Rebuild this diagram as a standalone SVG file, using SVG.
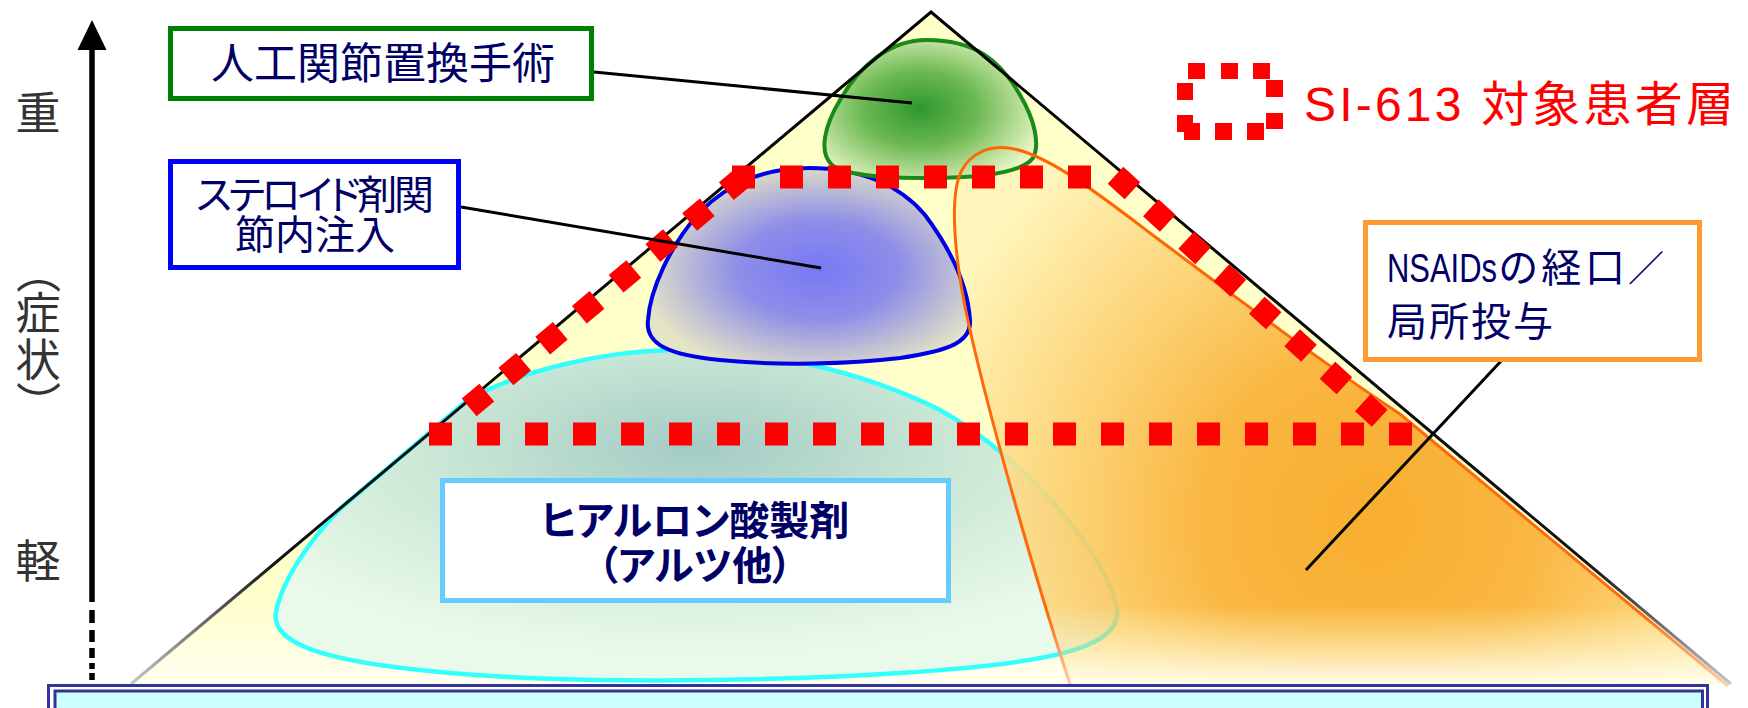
<svg xmlns="http://www.w3.org/2000/svg" width="1748" height="708" viewBox="0 0 1748 708">
<style>
  .jp { font-family: 'Noto Sans CJK JP', 'Noto Sans CJK SC', sans-serif; font-feature-settings: "palt"; }
  .lat { font-family: 'Liberation Sans', 'Noto Sans CJK JP', sans-serif; font-feature-settings: "palt"; }
  .lbl { fill: #000066; }
  .ax { fill: #333333; font-size: 45px; }
  .box { fill: #ffffff; stroke-width: 5; }
  .conn { stroke: #000000; stroke-width: 3; fill: none; }
  .dots { stroke: #ff0000; stroke-width: 23; stroke-dasharray: 23 25; fill: none; }
  .lg { fill: #ff0000; }
</style>
<defs>
  <linearGradient id="triFill" gradientUnits="userSpaceOnUse" x1="0" y1="12" x2="0" y2="684">
    <stop offset="0" stop-color="#ffffc8"/>
    <stop offset="0.88" stop-color="#ffffcc"/>
    <stop offset="1" stop-color="#fffff0"/>
  </linearGradient>
  <linearGradient id="triStroke" gradientUnits="userSpaceOnUse" x1="0" y1="12" x2="0" y2="684">
    <stop offset="0" stop-color="#000000"/>
    <stop offset="0.82" stop-color="#111111"/>
    <stop offset="1" stop-color="#c8c8c8"/>
  </linearGradient>
  <linearGradient id="orStroke" gradientUnits="userSpaceOnUse" x1="0" y1="148" x2="0" y2="690">
    <stop offset="0" stop-color="#ff6600"/>
    <stop offset="0.86" stop-color="#ff6a10"/>
    <stop offset="1" stop-color="#ffd6b8"/>
  </linearGradient>
  <radialGradient id="orFill" gradientUnits="userSpaceOnUse" cx="1370" cy="520" r="470">
    <stop offset="0" stop-color="#f7a21a"/>
    <stop offset="0.35" stop-color="#f9ad2e"/>
    <stop offset="0.65" stop-color="#fcce6c"/>
    <stop offset="1" stop-color="#fff4b8"/>
  </radialGradient>
  <linearGradient id="fadeG" gradientUnits="userSpaceOnUse" x1="0" y1="605" x2="0" y2="688">
    <stop offset="0" stop-color="#ffffff"/>
    <stop offset="1" stop-color="#000000"/>
  </linearGradient>
  <mask id="fadeMask" maskUnits="userSpaceOnUse" x="0" y="0" width="1748" height="708">
    <rect x="0" y="0" width="1748" height="708" fill="url(#fadeG)"/>
  </mask>
  <radialGradient id="cyFill" cx="0.5" cy="0.3" r="0.62">
    <stop offset="0" stop-color="#a3cbc4"/>
    <stop offset="0.5" stop-color="#cae7d6"/>
    <stop offset="1" stop-color="#eafaea"/>
  </radialGradient>
  <radialGradient id="blFill" cx="0.53" cy="0.52" r="0.56">
    <stop offset="0" stop-color="#7878f6"/>
    <stop offset="0.45" stop-color="#8e8ee8"/>
    <stop offset="1" stop-color="#e4e4c6"/>
  </radialGradient>
  <radialGradient id="grFill" cx="0.45" cy="0.5" r="0.6">
    <stop offset="0" stop-color="#2e982e"/>
    <stop offset="0.45" stop-color="#6cb852"/>
    <stop offset="1" stop-color="#e6f5c2"/>
  </radialGradient>
</defs>

<g id="pyramid">
  <path d="M 931,12 L 1731,684 L 131,684 Z" fill="url(#triFill)"/>
</g>

<g id="node-hyaluronic-area">
  <path d="M 669,350 C 760,348 860,370 940,410 C 1030,460 1110,560 1117,610 C 1122,650 1040,664 900,673 C 760,682 560,684 440,672 C 330,662 270,645 276,612 C 282,580 310,540 340,509 L 470,398 C 525,370 600,352 669,350 Z" fill="url(#cyFill)" stroke="#33ffff" stroke-width="4.5"/>
</g>

<g id="node-nsaids-area">
  <path d="M 1072,690 C 1045,610 995,440 970,330 C 955,265 948,195 962,170 C 972,152 990,146 1008,148 C 1045,152 1100,195 1150,233 C 1250,308 1330,368 1400,414 L 1728,686 Z" fill="url(#orFill)" fill-opacity="0.88" mask="url(#fadeMask)"/>
</g>

<g id="node-steroid-area">
  <path d="M 810,168 C 860,168 900,185 925,215 C 955,255 968,290 970,320 C 972,345 940,352 900,358 C 850,364 780,366 720,360 C 670,355 645,345 648,320 C 650,290 670,245 700,212 C 730,182 765,168 810,168 Z" fill="url(#blFill)" stroke="#0000e6" stroke-width="4"/>
</g>

<g id="node-surgery-area">
  <path d="M 927,40 C 975,40 1000,60 1020,95 C 1035,120 1040,145 1033,158 C 1020,175 970,178 930,178 C 880,178 845,175 832,165 C 818,152 825,125 840,100 C 860,65 890,40 927,40 Z" fill="url(#grFill)" stroke="#1a8a1a" stroke-width="4"/>
</g>

<g id="nsaids-outline">
  <path d="M 1072,690 C 1045,610 995,440 970,330 C 955,265 948,195 962,170 C 972,152 990,146 1008,148 C 1045,152 1100,195 1150,233 C 1250,308 1330,368 1400,414 L 1728,686" fill="none" stroke="url(#orStroke)" stroke-width="3"/>
</g>

<g id="pyramid-edges">
  <path d="M 131,684 L 931,12 L 1731,684" fill="none" stroke="url(#triStroke)" stroke-width="3"/>
</g>

<g id="node-target-zone">
  <path class="dots" d="M 732,177 L 1091,177"/>
  <path class="dots" d="M 429,434 L 1413,434"/>
  <path class="dots" d="M 469.2,407.4 L 744.1,176.2"/>
  <path class="dots" d="M 1115.5,175.2 L 1380.5,419"/>
</g>

<g id="connectors">
  <path class="conn" d="M 594,72 L 912,103"/>
  <path class="conn" d="M 461,207 L 821,268"/>
  <path class="conn" d="M 1502,360 L 1306,570"/>
</g>

<g id="node-surgery">
  <rect class="box" x="170.5" y="28.5" width="421" height="70" stroke="#008000"/>
  <text class="jp lbl" x="383" y="79" font-size="43" text-anchor="middle">人工関節置換手術</text>
</g>

<g id="node-steroid">
  <rect class="box" x="170.5" y="161.5" width="288" height="106" stroke="#0000ff"/>
  <text class="jp lbl" x="315" y="209" font-size="40" text-anchor="middle" textLength="238">ステロイド剤関</text>
  <text class="jp lbl" x="315" y="249" font-size="40" text-anchor="middle">節内注入</text>
</g>

<g id="node-hyaluronic">
  <rect class="box" x="442.5" y="480.5" width="506" height="120" stroke="#66ccff"/>
  <text class="jp lbl" x="695" y="535" font-size="40" font-weight="bold" text-anchor="middle">ヒアルロン酸製剤</text>
  <text class="jp lbl" x="695" y="580" font-size="40" font-weight="bold" text-anchor="middle">（アルツ他）</text>
</g>

<g id="node-nsaids">
  <rect class="box" x="1365.5" y="222.5" width="334" height="137" stroke="#ff9933"/>
  <text class="lat lbl" y="282" font-size="40"><tspan x="1387" textLength="110" lengthAdjust="spacingAndGlyphs">NSAIDs</tspan><tspan x="1499" class="jp" textLength="126">の経口</tspan><tspan x="1628" class="jp" font-size="36">／</tspan></text>
  <text class="jp lbl" x="1387" y="336" font-size="40" textLength="166">局所投与</text>
</g>

<g id="legend">
  <rect class="lg" x="1188" y="63" width="17" height="16"/>
  <rect class="lg" x="1221" y="63" width="17" height="16"/>
  <rect class="lg" x="1253" y="63" width="17" height="16"/>
  <rect class="lg" x="1177" y="83" width="16" height="17"/>
  <rect class="lg" x="1177" y="115" width="16" height="17"/>
  <rect class="lg" x="1184" y="123" width="16" height="17"/>
  <rect class="lg" x="1215" y="123" width="17" height="17"/>
  <rect class="lg" x="1247" y="123" width="17" height="17"/>
  <rect class="lg" x="1266" y="80" width="17" height="17"/>
  <rect class="lg" x="1266" y="113" width="17" height="16"/>
  <text class="lat" x="1304" y="121" font-size="48" fill="#ff0000" textLength="430">SI-613 対象患者層</text>
</g>

<g id="axis">
  <polygon points="92,20 77.5,50 106.5,50" fill="#000000"/>
  <line x1="92" y1="48" x2="92" y2="602" stroke="#000000" stroke-width="5.5"/>
  <g stroke="#000000" stroke-width="5.5">
    <line x1="92" y1="610" x2="92" y2="623"/>
    <line x1="92" y1="630" x2="92" y2="642"/>
    <line x1="92" y1="648" x2="92" y2="658"/>
    <line x1="92" y1="663" x2="92" y2="669"/>
    <line x1="92" y1="673" x2="92" y2="680"/>
  </g>
  <text class="jp ax" x="38" y="130" text-anchor="middle">重</text>
  <text class="jp ax" x="38" y="297.6" text-anchor="middle" transform="rotate(90 38 281)">（</text>
  <text class="jp ax" x="38" y="330" text-anchor="middle">症</text>
  <text class="jp ax" x="38" y="377" text-anchor="middle">状</text>
  <text class="jp ax" x="38" y="410.6" text-anchor="middle" transform="rotate(90 38 394)">）</text>
  <text class="jp ax" x="38" y="578" text-anchor="middle">軽</text>
</g>

<g id="banner">
  <rect x="48.5" y="685.5" width="1659" height="40" fill="#ffffff" stroke="#333399" stroke-width="3"/>
  <rect x="55" y="691" width="1647.5" height="40" fill="#ccffff" stroke="#333399" stroke-width="3"/>
</g>
</svg>
